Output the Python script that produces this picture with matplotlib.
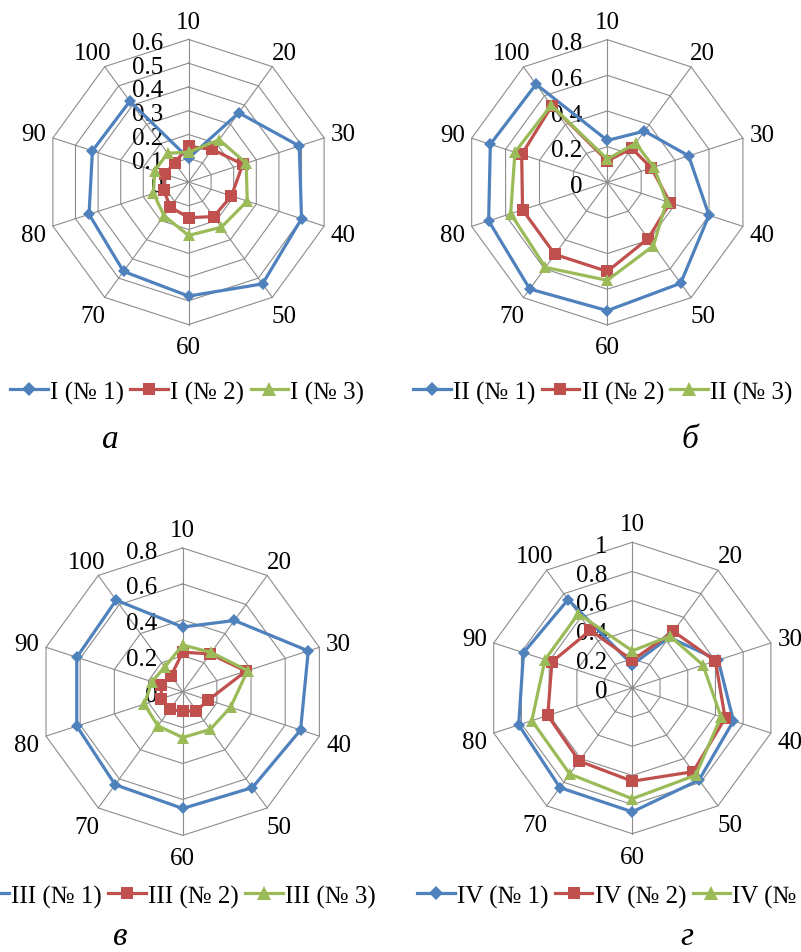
import numpy as np
import matplotlib
matplotlib.use("Agg")
import matplotlib.pyplot as plt
from matplotlib.transforms import offset_copy

plt.rcParams['font.family'] = ['Liberation Serif', 'DejaVu Serif']

# ---------------- data ----------------
categories = ["10", "20", "30", "40", "50", "60", "70", "80", "90", "100"]

a_series1 = [0.10, 0.36, 0.49, 0.50, 0.53, 0.48, 0.465, 0.44, 0.425, 0.42]
a_series2 = [0.15, 0.17, 0.24, 0.19, 0.18, 0.15, 0.13, 0.11, 0.105, 0.10]
a_series3 = [0.125, 0.22, 0.255, 0.26, 0.235, 0.225, 0.175, 0.155, 0.15, 0.15]
a_labels = ["I (№ 1)", "I (№ 2)", "I (№ 3)"]
a_ticks = [0, 0.1, 0.2, 0.3, 0.4, 0.5, 0.6]
a_ticklabels = ["0", "0.1", "0.2", "0.3", "0.4", "0.5", "0.6"]

b_series1 = [0.235, 0.355, 0.48, 0.60, 0.70, 0.72, 0.74, 0.70, 0.69, 0.68]
b_series2 = [0.12, 0.235, 0.26, 0.37, 0.39, 0.50, 0.50, 0.50, 0.505, 0.53]
b_series3 = [0.13, 0.27, 0.275, 0.35, 0.44, 0.55, 0.59, 0.57, 0.545, 0.535]
b_labels = ["II (№ 1)", "II (№ 2)", "II (№ 3)"]
b_ticks = [0, 0.2, 0.4, 0.6, 0.8]
b_ticklabels = ["0", "0.2", "0.4", "0.6", "0.8"]

c_series1 = [0.36, 0.49, 0.735, 0.69, 0.66, 0.65, 0.64, 0.62, 0.62, 0.63]
c_series2 = [0.22, 0.26, 0.37, 0.15, 0.13, 0.11, 0.12, 0.125, 0.125, 0.11]
c_series3 = [0.26, 0.27, 0.38, 0.28, 0.26, 0.255, 0.235, 0.225, 0.18, 0.17]
c_labels = ["III (№ 1)", "III (№ 2)", "III (№ 3)"]
c_ticks = [0, 0.2, 0.4, 0.6, 0.8]
c_ticklabels = ["0", "0.2", "0.4", "0.6", "0.8"]

d_series1 = [0.16, 0.43, 0.62, 0.73, 0.78, 0.85, 0.845, 0.82, 0.785, 0.75]
d_series2 = [0.19, 0.48, 0.60, 0.67, 0.71, 0.64, 0.62, 0.61, 0.58, 0.49]
d_series3 = [0.255, 0.44, 0.51, 0.64, 0.74, 0.76, 0.73, 0.725, 0.63, 0.63]
d_labels = ["IV (№ 1)", "IV (№ 2)", "IV (№ 3)"]
d_ticks = [0, 0.2, 0.4, 0.6, 0.8, 1.0]
d_ticklabels = ["0", "0.2", "0.4", "0.6", "0.8", "1"]

panel_letters = ["а", "б", "в", "г"]

# ---------------- style ----------------
W, H = 801, 953
colors = ["#4F81BD", "#C0504D", "#9BBB59"]
markers = ["D", "s", "^"]
msizes = [5.8, 8, 8.5]
grid_color = "#8C8C8C"
FS = 18

fig = plt.figure(figsize=(W / 100, H / 100), dpi=100)

panels = [
    dict(cx=188.5, cy=183.0, R=142.6, series=[a_series1, a_series2, a_series3],
         labels=a_labels, ticks=a_ticks, ticklabels=a_ticklabels,
         leg_x=10, leg_y=393, letter_xy=(110, 448)),
    dict(cx=607.3, cy=183.3, R=142.6, series=[b_series1, b_series2, b_series3],
         labels=b_labels, ticks=b_ticks, ticklabels=b_ticklabels,
         leg_x=413, leg_y=393, letter_xy=(690, 448)),
    dict(cx=182.7, cy=692.7, R=143.7, series=[c_series1, c_series2, c_series3],
         labels=c_labels, ticks=c_ticks, ticklabels=c_ticklabels,
         leg_x=-29, leg_y=897, letter_xy=(120, 945)),
    dict(cx=632.3, cy=689.0, R=145.7, series=[d_series1, d_series2, d_series3],
         labels=d_labels, ticks=d_ticks, ticklabels=d_ticklabels,
         leg_x=417, leg_y=897, letter_xy=(687, 945)),
]

n = len(categories)
theta = np.arange(n) * 2 * np.pi / n
theta_c = np.append(theta, theta[0])

for i, p in enumerate(panels):
    cx, cy, R = p["cx"], p["cy"], p["R"]
    ax = fig.add_axes([(cx - R) / W, (H - (cy + R)) / H, 2 * R / W, 2 * R / H],
                      projection="polar")
    ax.set_theta_zero_location("N")
    ax.set_theta_direction(-1)
    rmax = p["ticks"][-1]
    ax.set_ylim(0, rmax)
    ax.grid(False)
    ax.set_xticks([])
    ax.set_yticks([])
    ax.spines["polar"].set_visible(False)
    ax.patch.set_alpha(0)

    # polygon grid
    for v in p["ticks"][1:]:
        ax.plot(theta_c, [v] * (n + 1), color=grid_color, lw=0.8, zorder=1, clip_on=False)
    for t in theta:
        ax.plot([t, t], [0, rmax], color=grid_color, lw=0.8, zorder=1, clip_on=False)

    # category labels
    for t, lab in zip(theta, categories):
        ax.text(t, rmax * 1.14, lab, ha="center", va="center_baseline", fontsize=FS,
                clip_on=False)

    # value tick labels
    tr = offset_copy(ax.transData, fig=fig, x=-25, y=-1, units="dots")
    for v, lab in zip(p["ticks"], p["ticklabels"]):
        ax.text(0, v, lab, transform=tr, ha="right", va="center_baseline", fontsize=FS,
                clip_on=False, zorder=2)

    # series
    handles = []
    for s, col, mk, ms, lab in zip(p["series"], colors, markers, msizes, p["labels"]):
        vals = np.append(s, s[0])
        h, = ax.plot(theta_c, vals, color=col, lw=2.3, marker=mk, markersize=ms,
                     markeredgewidth=0, label=lab, zorder=3, clip_on=False)
        handles.append(h)

    fig.legend(handles=handles, loc="center left",
               bbox_to_anchor=(p["leg_x"] / W, 1 - p["leg_y"] / H),
               ncol=3, frameon=False, fontsize=FS, handlelength=1.5,
               handletextpad=0.1, columnspacing=0.25, borderpad=0, borderaxespad=0,
               markerscale=1.15)

    lx, ly = p["letter_xy"]
    fig.text(lx / W, 1 - ly / H, panel_letters[i], ha="center", va="baseline",
             fontsize=24, style="italic")

fig.savefig("out.png", dpi=100)
